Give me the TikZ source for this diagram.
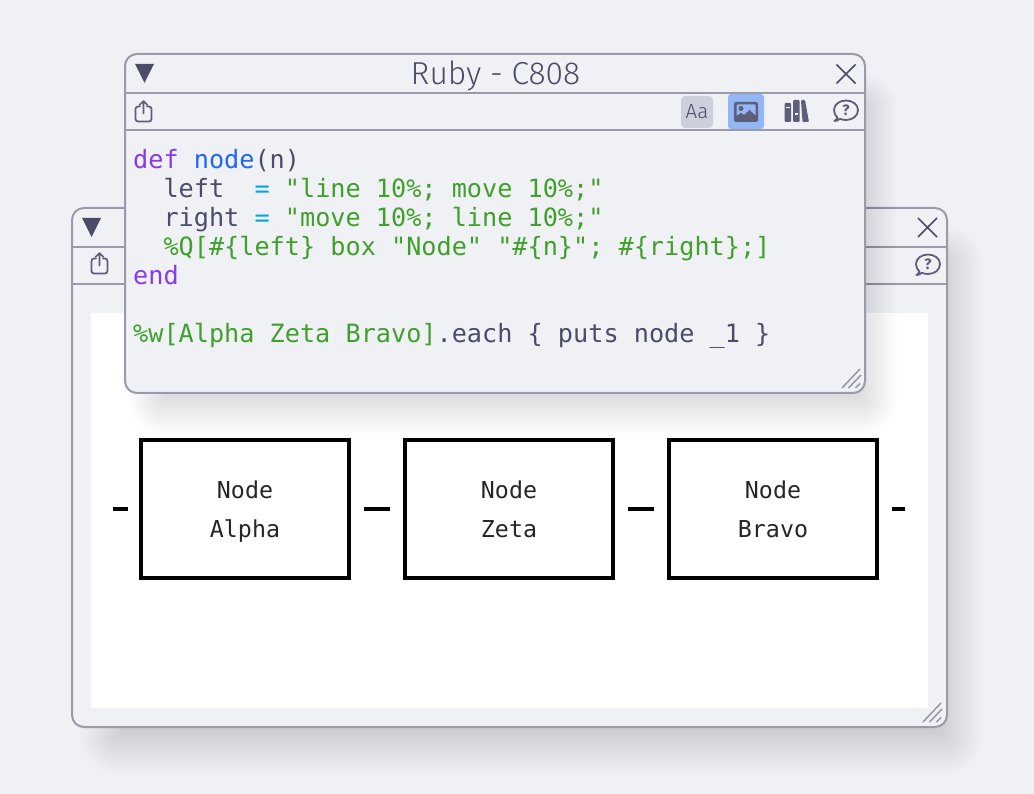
\documentclass[tikz,border=0pt]{standalone}
\usepackage{fontspec}
\setmainfont{Fira Sans}
\newfontfamily\lightfont{Fira Sans Light}
\newfontfamily\codefont{DejaVu Sans Mono}
\newfontfamily\labfont{DejaVu Sans Mono}
\definecolor{bgc}{HTML}{EFF1F5}
\definecolor{edgec}{HTML}{9A9AAD}
\definecolor{inkc}{HTML}{4B4C6A}
\definecolor{iconc}{HTML}{5C5E7A}
\definecolor{kw}{HTML}{8839EF}
\definecolor{fnc}{HTML}{1E66F5}
\definecolor{opc}{HTML}{04A5E5}
\definecolor{strc}{HTML}{40A02B}
\definecolor{aabox}{HTML}{CCD0DA}
\definecolor{imgbox}{HTML}{95B6F5}
\newcommand{\softshadow}[6]{%
  \foreach \s in {0,...,19}{%
    \pgfmathsetmacro{\d}{#5-\s*(2*#5)/19}%
    \pgfmathsetmacro{\rr}{max(4,#5-\s*(2*#5)/19+14)}%
    \fill[black,opacity=#6/20,rounded corners=\rr pt]
      (#1-\d,#2-\d) rectangle (#3+\d,#4+\d);
  }}
\newcommand{\tri}[2]{\fill[inkc,line join=round] (#1,#2) -- (#1+19,#2) -- (#1+9.5,#2+19) -- cycle;}
\newcommand{\closex}[2]{\draw[inkc,line width=1.6pt] (#1,#2) -- (#1+19,#2+19) (#1+19,#2) -- (#1,#2+19);}
\newcommand{\shareicon}[2]{%
  \begin{scope}[shift={(#1,#2)}]
  \draw[iconc,line width=1.7pt,line cap=round,line join=round,rounded corners=2.5pt]
     (-3.5,6) -- (-8,6) -- (-8,21) -- (8,21) -- (8,6) -- (3.5,6);
  \draw[iconc,line width=1.7pt,line cap=round,line join=round]
     (0,13) -- (0,1) (-4,4.5) -- (0,0.5) -- (4,4.5);
  \end{scope}}
\newcommand{\helpicon}[3]{%
  \begin{scope}[shift={(#1,#2)}]
  \draw[iconc,line width=1.8pt,line join=round]
     (-8.5,7) .. controls (-11,4.5) and (-12,2) .. (-12,-0.5)
     .. controls (-12,-6) and (-6.5,-10) .. (0,-10)
     .. controls (6.5,-10) and (12,-6) .. (12,-0.5)
     .. controls (12,5.5) and (6.5,9.5) .. (0,9.5)
     .. controls (-2.5,9.5) and (-4.5,9) .. (-6,8.3)
     .. controls (-8,10) and (-10,10.5) .. (-11.5,10.5)
     .. controls (-10,9.5) and (-9,8) .. (-8.5,7) -- cycle;
  \node[text=iconc,inner sep=0pt,font=\fontsize{15}{15}\bfseries\selectfont] (#3) at (0,-0.5) {?};
  \end{scope}}
\newcommand{\grip}[2]{%
  \begin{scope}[shift={(#1,#2)}]
  \draw[edgec,line width=1.6pt] (0,19) -- (18,0) (6.5,19) -- (19,6) (13.5,19) -- (18,14.5);
  \end{scope}}
\newcommand{\tl}{\rule{0pt}{24pt}}
\newcommand{\bl}{\rule[-6pt]{0pt}{6pt}}
\tikzset{
  winedge/.style={draw=edgec,line width=2pt,rounded corners=12pt},
  sep/.style={edgec,line width=2pt},
  codeline/.style={anchor=base west,inner sep=0pt,font=\codefont\fontsize{25.2}{29}\selectfont,text=inkc},
  boxnode/.style={draw=black,line width=4.4pt,fill=white,minimum width=208.5pt,minimum height=138pt,inner sep=0pt,align=center,text=black!85,font=\labfont\fontsize{23.3}{39}\selectfont},
  link/.style={black,line width=4.4pt},
}
\begin{document}
\begin{tikzpicture}[x=1pt,y=-1pt]
\useasboundingbox (0,0) rectangle (1034,794);
\fill[bgc] (0,0) rectangle (1034,794);
% back window
\softshadow{104}{250}{958}{750}{24}{0.125}
\fill[bgc,rounded corners=12pt] (72,208) rectangle (947,727);
\fill[white] (91,313) rectangle (928,708);
\draw[sep] (72,247) -- (947,247);
\draw[sep] (72,284) -- (947,284);
\draw[winedge] (72,208) rectangle (947,727);
\tri{82}{218}
\closex{918}{218}
\shareicon{99.5}{252.5}
\helpicon{928}{264.5}{helpback}
\grip{923}{703}
% diagram
\node[boxnode] (alpha) at (245,509) {\tl Node\\Alpha\bl};
\node[boxnode] (zeta) at (509,509) {\tl Node\\Zeta\bl};
\node[boxnode] (bravo) at (773,509) {\tl Node\\Bravo\bl};
\coordinate (inl) at (113,509);
\coordinate (outr) at (905,509);
\draw[link,shorten >=11pt] (inl) -- (alpha.west);
\draw[link,shorten <=13pt,shorten >=13pt] (alpha.east) -- (zeta.west);
\draw[link,shorten <=13pt,shorten >=13pt] (zeta.east) -- (bravo.west);
\draw[link,shorten <=13pt] (bravo.east) -- (outr);
% front window
\softshadow{150}{95}{875}{412}{22}{0.12}
\fill[bgc,rounded corners=12pt] (125,54) rectangle (865,393);
\fill[aabox,rounded corners=4pt] (681,96) rectangle (713,128);
\fill[imgbox,rounded corners=3pt] (728,94) rectangle (764,129);
\draw[sep] (125,93) -- (865,93);
\draw[sep] (125,130) -- (865,130);
\draw[winedge] (125,54) rectangle (865,393);
\tri{135}{64}
\closex{836.5}{64.5}
\node[text=inkc,inner sep=0pt,anchor=base,font=\lightfont\fontsize{31.8}{32}\selectfont] (title) at (495.5,85) {Ruby - C808};
\shareicon{143.5}{100.5}
\node[text=inkc,inner sep=0pt,anchor=base,font=\lightfont\fontsize{20.5}{21}\selectfont] (aa) at (697,119) {Aa};
% image icon
\fill[iconc,rounded corners=2pt] (734,102) rectangle (758,122);
\fill[imgbox,rounded corners=1pt] (736.5,104.5) rectangle (755.5,118);
\fill[iconc] (741,108.5) circle (2.5pt);
\fill[iconc] (736,119) -- (736,116) -- (741,113) -- (744,115) -- (749.5,110) -- (756,116) -- (756,119) -- cycle;
% books icon
\fill[iconc,rounded corners=1pt] (784.5,103) rectangle (791,122);
\fill[iconc,rounded corners=1pt] (793,100) rectangle (799.5,122);
\fill[iconc,rounded corners=1pt] (801,100) -- (805,100) -- (809,122) -- (802.5,122) -- cycle;
\fill[bgc] (786,107) rectangle (789.5,108);
\fill[bgc] (794.5,113) rectangle (798,115);
\helpicon{846}{110.5}{helpfront}
\grip{842}{369}
% code
\node[codeline] (c1) at (133,169) {\textcolor{kw}{def} \textcolor{fnc}{node}(n)};
\node[codeline] (c2) at (133,198) {~~left~~\textcolor{opc}{=} \textcolor{strc}{"line 10\%; move 10\%;"}};
\node[codeline] (c3) at (133,227) {~~right \textcolor{opc}{=} \textcolor{strc}{"move 10\%; line 10\%;"}};
\node[codeline] (c4) at (133,256) {~~\textcolor{strc}{\%Q[\#\{left\} box "Node" "\#\{n\}"; \#\{right\};]}};
\node[codeline] (c5) at (133,285) {\textcolor{kw}{end}};
\node[codeline] (c6) at (133,343) {\textcolor{strc}{\%w[Alpha Zeta Bravo]}.each \{ puts node \_1 \}};
\end{tikzpicture}
\end{document}
